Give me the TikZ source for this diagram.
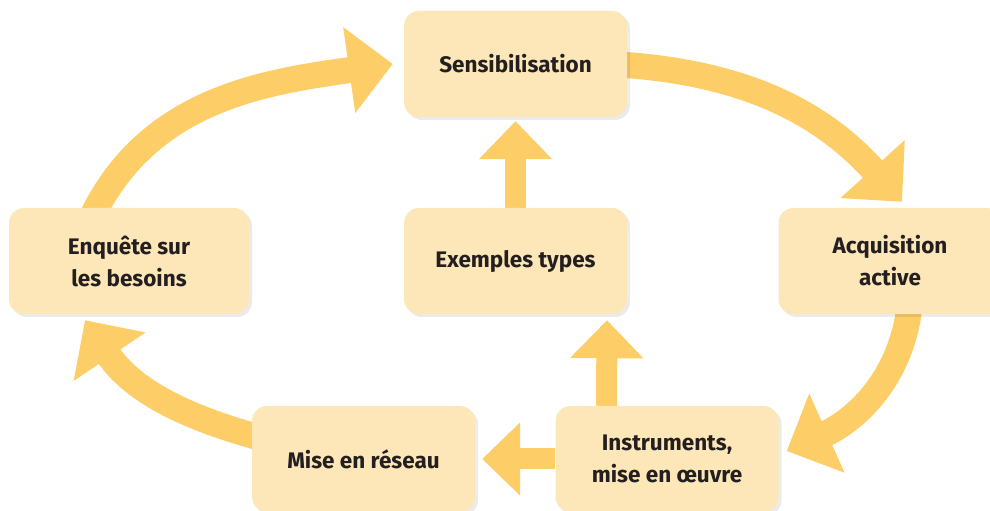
\documentclass[tikz,border=0pt]{standalone}
\usepackage{fontspec}
\setmainfont{Fira Sans}
\usepackage{tikz}
\usetikzlibrary{arrows.meta,shadows,backgrounds}
\definecolor{ocre}{HTML}{FDCD67}
\definecolor{creme}{HTML}{FDE6B7}
\definecolor{encre}{HTML}{231F20}

\begin{document}
\begin{tikzpicture}[x=1pt, y=1pt,
    etape/.style={shape=rectangle, rounded corners=15pt, fill=creme, minimum width=223pt, minimum height=106pt, align=center, text=encre, font=\fontsize{22.5}{32}\selectfont\bfseries, drop shadow={shadow xshift=3pt, shadow yshift=-3pt, opacity=0.08, fill=black}},
    fleche/.style={draw=ocre, line width=26pt, -{Triangle[length=44pt,width=84pt]}},
    montee/.style={draw=ocre, line width=21pt, -{Triangle[length=38pt,width=71pt]}}]
  \useasboundingbox (0,0) rectangle (990,511);
  \node[etape] (sens) at (515.5,447) {Sensibilisation};
  \node[etape] (exem) at (515.5,250) {Exemples types};
  \node[etape, minimum width=240pt] (enq) at (129,250) {Enquête sur\\les besoins};
  \node[etape] (acq) at (890,250) {Acquisition\\active};
  \node[etape] (mise) at (363.5,52) {Mise en réseau};
  \node[etape] (instr) at (667,52) {Instruments,\\mise en œuvre};
  \begin{scope}[on background layer]
    % le cycle
    \draw[fleche] ([xshift=-39pt,yshift=-13pt]enq.north) to[out=65,in=188] ([xshift=-11pt]sens.west);
    \draw[fleche] ([xshift=-17pt,yshift=0pt]sens.east) to[out=-3,in=132] ([xshift=12pt,yshift=6pt]acq.north);
    \draw[fleche] ([xshift=20pt,yshift=13pt]acq.south) to[out=-95,in=24] ([xshift=8pt,yshift=8pt]instr.east);
    \draw[fleche] ([xshift=13pt,yshift=20pt]mise.west) to[out=165,in=-56] ([xshift=-44pt,yshift=-6pt]enq.south);
    % les renvois
    \draw[montee] (exem.north) -- ([yshift=-4pt]sens.south);
    \draw[montee] ([xshift=-60.5pt]instr.north) -- ([xshift=91.5pt,yshift=-6pt]exem.south);
    \draw[montee] (instr.west) -- ([xshift=7pt]mise.east);
  \end{scope}
\end{tikzpicture}
\end{document}
